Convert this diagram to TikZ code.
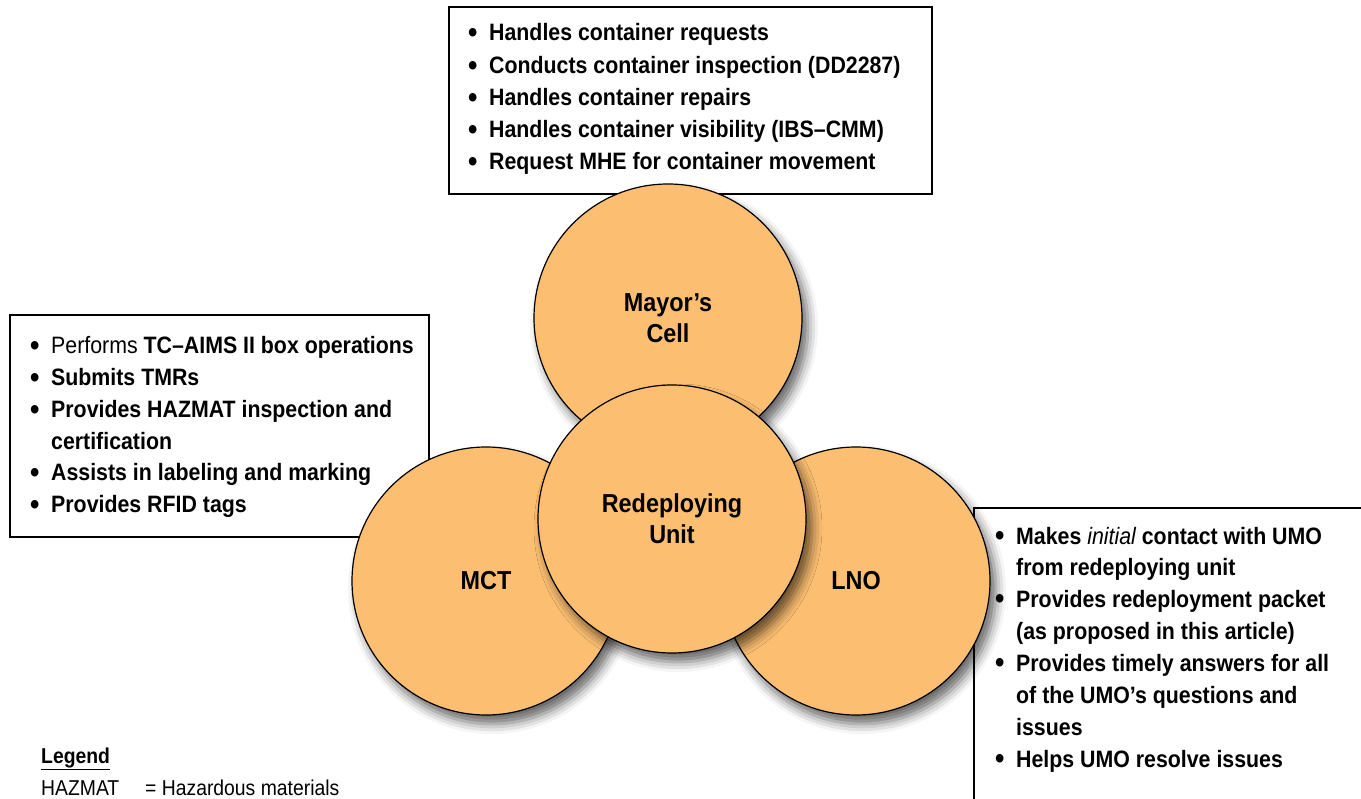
\documentclass[tikz,border=0pt]{standalone}
\usepackage{fontspec}
\setmainfont{Liberation Sans}[FakeStretch=0.9]
\usetikzlibrary{shadows.blur}
\definecolor{circfill}{RGB}{252,191,114}
\newcommand{\bul}{\makebox[21pt][l]{\raisebox{-0.05em}{\scalebox{1.25}{•}}}}
\tikzset{
  infobox/.style={draw=black, line width=1.1pt},
  bubble/.style={circle, draw=black, line width=1.2pt, fill=circfill,
    minimum size=268pt, inner sep=0pt, align=center,
    font=\fontsize{26}{31}\selectfont\bfseries,
    blur shadow={shadow xshift=6pt, shadow yshift=-9pt, shadow blur radius=10pt, shadow opacity=60}},
  txt/.style={anchor=base west, inner sep=0pt, font=\fontsize{23.7}{32}\selectfont\bfseries},
  leg/.style={anchor=base west, inner sep=0pt, font=\fontsize{21.5}{26}\selectfont},
}
\begin{document}
\begin{tikzpicture}[x=1pt,y=-1pt]
\useasboundingbox (0,0) rectangle (1361,799);
% boxes
\draw[infobox] (449,7) rectangle (932,194);
\draw[infobox] (10,315) rectangle (429,537);
\draw[infobox] (1361,508) -- (974,508) -- (974,799);
% top box text
\node[txt] (t1) at (468,41) {\bul Handles container requests};
\node[txt] (t2) at (468,74) {\bul Conducts container inspection (DD2287)};
\node[txt] (t3) at (468,106) {\bul Handles container repairs};
\node[txt] (t4) at (468,138) {\bul Handles container visibility (IBS–CMM)};
\node[txt] (t5) at (468,170) {\bul Request MHE for container movement};
% left box text
\node[txt] (l1) at (30,354) {\bul{\mdseries Performs} TC–AIMS II box operations};
\node[txt] (l2) at (30,386) {\bul Submits TMRs};
\node[txt] (l3) at (30,418) {\bul Provides HAZMAT inspection and};
\node[txt] (l4) at (51,450) {certification};
\node[txt] (l5) at (30,481) {\bul Assists in labeling and marking};
\node[txt] (l6) at (30,513) {\bul Provides RFID tags};
% right box text
\node[txt] (r1) at (995,544) {\bul Makes {\mdseries\itshape initial} contact with UMO};
\node[txt] (r2) at (1016,575) {from redeploying unit};
\node[txt] (r3) at (995,607) {\bul Provides redeployment packet};
\node[txt] (r4) at (1016,639) {(as proposed in this article)};
\node[txt] (r5) at (995,671) {\bul Provides timely answers for all};
\node[txt] (r6) at (1016,703) {of the UMO’s questions and};
\node[txt] (r7) at (1016,735) {issues};
\node[txt] (r8) at (995,767) {\bul Helps UMO resolve issues};
% circles
\node[bubble] (mct) at (486,581) {MCT};
\node[bubble] (lno) at (856,581) {LNO};
\node[bubble] (mayor) at (668,318) {Mayor’s\\Cell};
\node[bubble] (unit) at (672,519) {Redeploying\\Unit};
% legend
\node[leg, font=\fontsize{21.5}{26}\selectfont\bfseries] (legt) at (41,763) {\underline{Legend}};
\node[leg] (hz) at (41,795) {HAZMAT};
\node[leg] (hzd) at (145,795) {= Hazardous materials};
\end{tikzpicture}
\end{document}
